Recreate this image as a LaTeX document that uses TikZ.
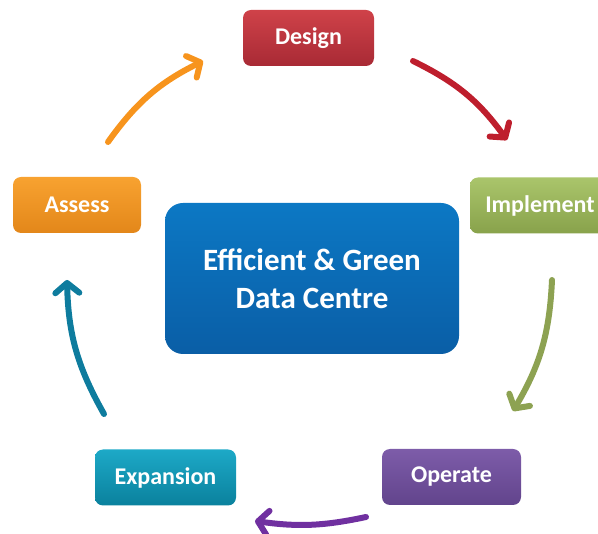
\documentclass[tikz,border=0pt]{standalone}
\usepackage{fontspec}
\setmainfont{Carlito}
\usetikzlibrary{arrows.meta}

\definecolor{designtop}{HTML}{CF4249}
\definecolor{designbot}{HTML}{A82A35}
\definecolor{impltop}{HTML}{AAC56B}
\definecolor{implbot}{HTML}{88A24B}
\definecolor{optop}{HTML}{7D5CA9}
\definecolor{opbot}{HTML}{62448C}
\definecolor{exptop}{HTML}{1DA9C7}
\definecolor{expbot}{HTML}{0A819D}
\definecolor{asstop}{HTML}{F8A230}
\definecolor{assbot}{HTML}{E3871A}
\definecolor{ctrtop}{HTML}{0C78C4}
\definecolor{ctrbot}{HTML}{0A5EA6}
\definecolor{arrorange}{HTML}{F7941D}
\definecolor{arrred}{HTML}{BE1E2D}
\definecolor{arrgreen}{HTML}{8DA252}
\definecolor{arrpurple}{HTML}{7030A0}
\definecolor{arrteal}{HTML}{0E7C9E}

\tikzset{
	phase/.style={rounded corners=8pt, minimum height=56pt, text=white,
		font=\bfseries\fontsize{24}{28}\selectfont, inner sep=0pt},
	cyclearrow/.style={line width=6pt, line cap=round,
		-{Straight Barb[length=10pt, width=24pt, line cap=round, line join=round]}}
}

\begin{document}
\begin{tikzpicture}[x=1pt, y=-1pt]
	\useasboundingbox (0,0) rectangle (598,534);

	\node[phase, minimum width=131pt, top color=designtop, bottom color=designbot] (design) at (308.5,38) {Design};
	\node[phase, minimum width=140pt, top color=impltop, bottom color=implbot] (implement) at (540,205.5) {Implement};
	\node[phase, minimum width=139pt, top color=optop, bottom color=opbot] (operate) at (451.5,477) {Operate};
	\node[phase, minimum width=141pt, top color=exptop, bottom color=expbot] (expansion) at (165.5,477.5) {Expansion};
	\node[phase, minimum width=128pt, top color=asstop, bottom color=assbot] (assess) at (77,205) {Assess};

	\node[rounded corners=18pt, minimum width=294pt, minimum height=151pt, inner sep=0pt,
		top color=ctrtop, bottom color=ctrbot, text=white, align=center,
		font=\bfseries\fontsize{31}{38}\selectfont] (centre) at (312,278.5) {Efficient \& Green\\Data Centre};

	% ends of the arrows
	\coordinate (a1) at (108,142);
	\coordinate (a2) at (203,61);
	\coordinate (b1) at (413,61);
	\coordinate (b2) at (507,140);
	\coordinate (c1) at (552,280);
	\coordinate (c2) at (513,411);
	\coordinate (d1) at (366,517);
	\coordinate (d2) at (255,521);
	\coordinate (e1) at (104,414);
	\coordinate (e2) at (67,280);

	\draw[cyclearrow, arrorange] (a1) to[bend left=14] (a2);
	\draw[cyclearrow, arrred] (b1) to[bend left=14] (b2);
	\draw[cyclearrow, arrgreen] (c1) to[bend left=14] (c2);
	\draw[cyclearrow, arrpurple] (d1) to[bend left=10] (d2);
	\draw[cyclearrow, arrteal] (e1) to[bend left=14] (e2);
\end{tikzpicture}
\end{document}
